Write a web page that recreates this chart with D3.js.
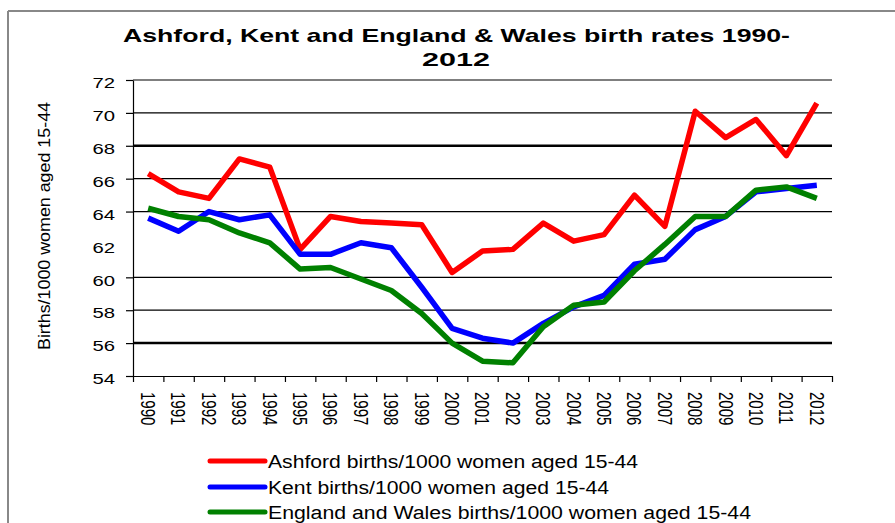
<!DOCTYPE html>
<html>
<head>
<meta charset="utf-8">
<script src="https://cdn.jsdelivr.net/npm/d3@7/dist/d3.min.js"></script>
<style>
  body { margin: 0; background: #fff; }
  text { font-family: "Liberation Sans", Arial, sans-serif; }
</style>
</head>
<body>
<div id="chart"></div>
<script>
// == DATA ==
var years = ["1990","1991","1992","1993","1994","1995","1996","1997","1998","1999","2000",
             "2001","2002","2003","2004","2005","2006","2007","2008","2009","2010","2011","2012"];

var ashford = [66.3, 65.2, 64.8, 67.2, 66.7, 61.7, 63.7, 63.4, 63.3, 63.2, 60.3,
               61.6, 61.7, 63.3, 62.2, 62.6, 65.0, 63.1, 70.1, 68.5, 69.6, 67.4, 70.6];
var kent    = [63.6, 62.8, 64.0, 63.5, 63.8, 61.4, 61.4, 62.1, 61.8, 59.4, 56.9,
               56.3, 56.0, 57.2, 58.2, 58.9, 60.8, 61.1, 62.9, 63.7, 65.2, 65.4, 65.6];
var englandWales = [64.2, 63.7, 63.5, 62.7, 62.1, 60.5, 60.6, 59.9, 59.2, 57.8, 56.0,
               54.9, 54.8, 57.0, 58.3, 58.5, 60.4, 62.0, 63.7, 63.7, 65.3, 65.5, 64.8];

var seriesNames = ["Ashford births/1000 women aged 15-44",
                   "Kent births/1000 women aged 15-44",
                   "England and Wales births/1000 women aged 15-44"];
var seriesColors = ["#ff0000", "#0000ff", "#008000"];

var yTicks = [54, 56, 58, 60, 62, 64, 66, 68, 70, 72];
var gridValues = [56, 58, 60, 64, 66, 68, 70, 72];   // 62 line is missing in the original
var thickGrid = [56, 68];

var titleLines = ["Ashford, Kent and England & Wales birth rates 1990-", "2012"];
var yTitle = "Births/1000 women aged 15-44";

// == BOILERPLATE ==
var W = 895, H = 523;
var margin = { top: 80, left: 133, right: 63, bottom: 147 },
    width = W - margin.left - margin.right,
    height = H - margin.top - margin.bottom;

var root = d3.select("#chart").append("svg")
  .attr("width", W).attr("height", H);

// outer frame (only top and left visible)
root.append("line").attr("x1", 8).attr("x2", W).attr("y1", 11).attr("y2", 11)
  .attr("stroke", "#888").attr("stroke-width", 2);
root.append("line").attr("x1", 8).attr("x2", 8).attr("y1", 11).attr("y2", H)
  .attr("stroke", "#888").attr("stroke-width", 2);

// title
root.append("text").attr("x", 123).attr("y", 42)
  .attr("font-size", 19).attr("font-weight", "bold")
  .attr("textLength", 667).attr("lengthAdjust", "spacingAndGlyphs")
  .text(titleLines[0]);
root.append("text").attr("x", 456).attr("y", 66)
  .attr("font-size", 19).attr("font-weight", "bold").attr("text-anchor", "middle")
  .attr("textLength", 68).attr("lengthAdjust", "spacingAndGlyphs")
  .text(titleLines[1]);

// y title
root.append("text")
  .attr("transform", "translate(50,226) rotate(-90)")
  .attr("text-anchor", "middle").attr("font-size", 16)
  .attr("textLength", 248).attr("lengthAdjust", "spacingAndGlyphs")
  .text(yTitle);

var svg = root.append("g")
  .attr("transform", "translate(" + margin.left + "," + margin.top + ")");

// scales
var x = d3.scaleBand().domain(years).range([0, width]);
var xEdge = d3.scaleLinear().domain([0, years.length]).range([0, width]);
var y = d3.scaleLinear().domain([54, 72]).range([height, 0]);

// gridlines
svg.selectAll(".grid")
  .data(gridValues)
  .enter().append("line")
  .attr("x1", 0).attr("x2", width)
  .attr("y1", function (d) { return y(d); })
  .attr("y2", function (d) { return y(d); })
  .attr("stroke", "#000")
  .attr("stroke-width", function (d) { return thickGrid.indexOf(d) >= 0 ? 2.5 : 1.2; });

// y axis
var yAxis = svg.append("g")
  .call(d3.axisLeft(y).tickValues(yTicks).tickSize(7).tickSizeOuter(0));
yAxis.select(".domain").attr("stroke", "#000").attr("stroke-width", 1.2);
yAxis.selectAll(".tick line").attr("stroke-width", 1.2)
  .filter(function (d) { return d === 62; }).remove();
yAxis.selectAll(".tick text")
  .attr("font-family", null).attr("font-size", 14)
  .attr("x", -18 / 1.45).attr("dy", "0.55em")
  .attr("transform", "scale(1.45,1)");

// x axis tick marks at band edges
var xTickAxis = svg.append("g")
  .attr("transform", "translate(0," + height + ")")
  .call(d3.axisBottom(xEdge).tickValues(d3.range(years.length + 1)).tickFormat("").tickSize(6).tickSizeOuter(0));
xTickAxis.select(".domain").attr("stroke-width", 1.2);
xTickAxis.selectAll(".tick line").attr("stroke-width", 1.2);

// x axis labels
var xLab = svg.append("g")
  .attr("transform", "translate(0," + height + ")")
  .call(d3.axisBottom(x).tickSize(0));
xLab.select(".domain").remove();
xLab.selectAll(".tick text")
  .attr("font-family", null).attr("font-size", 15)
  .attr("x", 0).attr("y", 0).attr("dy", "0.35em")
  .attr("transform", "translate(0,16) scale(1.35,1) rotate(90)")
  .style("text-anchor", "start");

// lines
var allSeries = [ashford, kent, englandWales];
var line = d3.line()
  .x(function (d, i) { return x(years[i]) + x.bandwidth() / 2; })
  .y(function (d) { return y(d); });

svg.selectAll(".series")
  .data(allSeries)
  .enter().append("path")
  .attr("fill", "none")
  .attr("stroke", function (d, i) { return seriesColors[i]; })
  .attr("stroke-width", 5.5)
  .attr("stroke-linejoin", "round")
  .attr("d", line);

// legend
var legendY = [461, 487, 512];
var legendW = [370, 341, 483];
var legend = root.selectAll(".legend")
  .data(seriesNames)
  .enter().append("g")
  .attr("transform", function (d, i) { return "translate(0," + legendY[i] + ")"; });
legend.append("line")
  .attr("x1", 210).attr("x2", 265)
  .attr("stroke", function (d, i) { return seriesColors[i]; })
  .attr("stroke-width", 5).attr("stroke-linecap", "round");
legend.append("text")
  .attr("x", 268).attr("y", 6.5)
  .attr("font-size", 18)
  .attr("textLength", function (d, i) { return legendW[i]; })
  .attr("lengthAdjust", "spacingAndGlyphs")
  .text(function (d) { return d; });
</script>
</body>
</html>
